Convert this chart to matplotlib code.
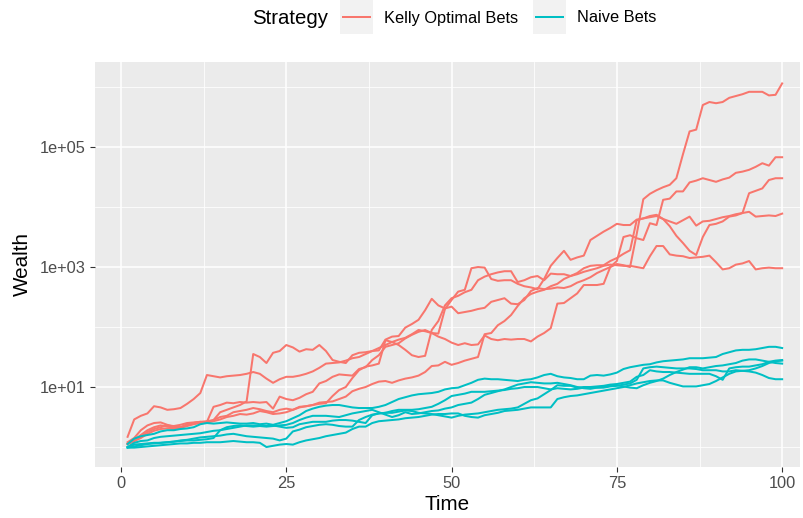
import numpy as np
import matplotlib
matplotlib.use("Agg")
import matplotlib.pyplot as plt
from matplotlib.lines import Line2D
from matplotlib.patches import Rectangle
from matplotlib.ticker import FixedLocator, NullFormatter

plt.rcParams['font.family'] = ['Liberation Sans', 'DejaVu Sans']

time = np.arange(1, 101)

# log10(wealth)
kelly_1 = [0.08, 0.15, 0.28, 0.36, 0.40, 0.41, 0.37, 0.34, 0.33, 0.38,
           0.40, 0.42, 0.43, 0.45, 0.58, 0.62, 0.66, 0.70, 0.76, 1.55,
           1.50, 1.40, 1.57, 1.60, 1.70, 1.66, 1.59, 1.63, 1.62, 1.70,
           1.60, 1.45, 1.42, 1.40, 1.53, 1.57, 1.58, 1.60, 1.61, 1.79,
           1.84, 1.85, 1.99, 2.05, 2.12, 2.28, 2.47, 2.36, 2.31, 2.34,
           2.23, 2.25, 2.27, 2.30, 2.32, 2.42, 2.45, 2.48, 2.39, 2.38,
           2.45, 2.60, 2.65, 2.63, 2.64, 2.66, 2.65, 2.68, 2.74, 2.78,
           2.83, 2.90, 2.95, 3.00, 3.05, 3.03, 3.00, 3.55, 4.13, 4.22,
           4.28, 4.33, 4.37, 4.48, 4.88, 5.26, 5.29, 5.70, 5.75, 5.73,
           5.75, 5.82, 5.85, 5.88, 5.92, 5.92, 5.92, 5.86, 5.87, 6.06]
kelly_2 = [0.05, 0.12, 0.20, 0.28, 0.33, 0.36, 0.34, 0.32, 0.33, 0.36,
           0.40, 0.41, 0.42, 0.67, 0.70, 0.74, 0.73, 0.75, 0.74, 0.75,
           0.74, 0.75, 0.64, 0.84, 0.80, 0.78, 0.82, 0.88, 0.92, 1.06,
           1.10, 1.17, 1.21, 1.20, 1.19, 1.30, 1.33, 1.45, 1.53, 1.67,
           1.70, 1.73, 1.81, 1.87, 1.92, 1.95, 1.90, 1.84, 1.80, 1.74,
           1.70, 1.73, 1.70, 1.71, 1.86, 1.80, 1.78, 1.80, 1.79, 1.80,
           1.80, 1.76, 1.84, 1.90, 1.98, 2.39, 2.40, 2.48, 2.56, 2.70,
           2.70, 2.70, 2.72, 3.00, 3.10, 3.50, 3.53, 3.48, 3.45, 3.73,
           3.70, 4.12, 4.14, 4.26, 4.26, 4.41, 4.44, 4.48, 4.45, 4.42,
           4.46, 4.49, 4.57, 4.59, 4.62, 4.67, 4.73, 4.69, 4.83, 4.83]
kelly_3 = [0.05, 0.10, 0.17, 0.25, 0.30, 0.33, 0.36, 0.35, 0.37, 0.40,
           0.41, 0.42, 0.40, 0.45, 0.50, 0.52, 0.58, 0.60, 0.62, 0.65,
           0.63, 0.60, 0.58, 0.62, 0.64, 0.62, 0.66, 0.68, 0.70, 0.72,
           0.73, 0.85, 0.95, 1.00, 1.15, 1.28, 1.34, 1.36, 1.39, 1.78,
           1.75, 1.70, 1.62, 1.53, 1.50, 1.52, 1.95, 2.10, 2.36, 2.48,
           2.52, 2.58, 2.62, 2.78, 2.84, 2.88, 2.91, 2.93, 2.93, 2.75,
           2.78, 2.83, 2.85, 2.78, 2.89, 2.88, 2.88, 2.85, 2.90, 2.98,
           3.02, 3.03, 3.03, 3.10, 3.15, 3.22, 3.28, 3.78, 3.81, 3.85,
           3.87, 3.80, 3.68, 3.52, 3.40, 3.27, 3.20, 3.50, 3.70, 3.72,
           3.76, 3.84, 3.86, 3.90, 4.23, 4.27, 4.31, 4.45, 4.48, 4.48]
kelly_4 = [0.17, 0.46, 0.52, 0.56, 0.68, 0.66, 0.62, 0.63, 0.65, 0.72,
           0.80, 0.90, 1.20, 1.18, 1.16, 1.18, 1.19, 1.20, 1.22, 1.25,
           1.22, 1.14, 1.07, 1.13, 1.17, 1.17, 1.19, 1.22, 1.26, 1.32,
           1.39, 1.40, 1.41, 1.44, 1.48, 1.50, 1.55, 1.60, 1.65, 1.70,
           1.75, 1.79, 1.82, 1.88, 1.95, 1.93, 1.90, 1.89, 2.30, 2.45,
           2.59, 2.62, 2.98, 3.00, 2.99, 2.80, 2.77, 2.78, 2.78, 2.72,
           2.68, 2.66, 2.63, 2.80, 3.02, 3.15, 3.27, 3.12, 3.16, 3.19,
           3.45, 3.52, 3.59, 3.65, 3.72, 3.70, 3.70, 3.79, 3.81, 3.83,
           3.85, 3.80, 3.76, 3.72, 3.78, 3.84, 3.69, 3.76, 3.77, 3.80,
           3.83, 3.85, 3.88, 3.90, 3.92, 3.84, 3.85, 3.86, 3.85, 3.89]
kelly_5 = [0.05, 0.10, 0.15, 0.22, 0.27, 0.30, 0.31, 0.30, 0.32, 0.35,
           0.38, 0.40, 0.41, 0.43, 0.46, 0.50, 0.52, 0.55, 0.54, 0.56,
           0.60, 0.58, 0.55, 0.56, 0.58, 0.62, 0.67, 0.68, 0.70, 0.74,
           0.75, 0.76, 0.80, 0.84, 0.93, 0.97, 1.00, 1.05, 1.09, 1.10,
           1.07, 1.11, 1.14, 1.16, 1.19, 1.25, 1.35, 1.36, 1.42, 1.37,
           1.40, 1.44, 1.47, 1.50, 1.88, 1.90, 2.03, 2.10, 2.20, 2.35,
           2.48, 2.55, 2.59, 2.62, 2.68, 2.72, 2.80, 2.85, 2.88, 2.92,
           2.95, 2.98, 3.02, 3.04, 3.03, 3.02, 3.02, 3.00, 2.98, 3.18,
           3.35, 3.35, 3.21, 3.19, 3.18, 3.15, 3.16, 3.17, 3.19, 3.08,
           2.96, 2.98, 3.04, 3.06, 3.10, 2.96, 2.98, 2.99, 2.98, 2.98]

naive_1 = [0.05, 0.14, 0.18, 0.20, 0.22, 0.26, 0.28, 0.28, 0.30, 0.31,
           0.33, 0.38, 0.40, 0.39, 0.40, 0.41, 0.40, 0.39, 0.39, 0.40,
           0.38, 0.39, 0.37, 0.40, 0.43, 0.48, 0.53, 0.60, 0.64, 0.67,
           0.69, 0.70, 0.70, 0.68, 0.66, 0.65, 0.65, 0.65, 0.67, 0.70,
           0.75, 0.80, 0.83, 0.86, 0.88, 0.89, 0.90, 0.92, 0.96, 0.98,
           0.99, 1.03, 1.07, 1.12, 1.14, 1.13, 1.13, 1.12, 1.11, 1.10,
           1.12, 1.13, 1.16, 1.20, 1.22, 1.18, 1.16, 1.15, 1.13, 1.13,
           1.19, 1.20, 1.19, 1.21, 1.24, 1.30, 1.33, 1.35, 1.37, 1.38,
           1.41, 1.43, 1.44, 1.45, 1.46, 1.48, 1.48, 1.48, 1.49, 1.50,
           1.55, 1.58, 1.61, 1.62, 1.62, 1.63, 1.65, 1.67, 1.67, 1.65]
naive_2 = [0.00, 0.07, 0.10, 0.11, 0.15, 0.17, 0.18, 0.19, 0.20, 0.21,
           0.22, 0.23, 0.25, 0.27, 0.28, 0.30, 0.32, 0.34, 0.36, 0.36,
           0.36, 0.35, 0.36, 0.34, 0.32, 0.33, 0.38, 0.40, 0.42, 0.42,
           0.42, 0.44, 0.45, 0.45, 0.44, 0.42, 0.40, 0.53, 0.56, 0.57,
           0.60, 0.62, 0.62, 0.62, 0.63, 0.65, 0.67, 0.72, 0.78, 0.85,
           0.87, 0.89, 0.92, 0.92, 0.92, 0.93, 0.94, 0.95, 0.97, 0.98,
           1.00, 1.00, 1.00, 0.98, 0.96, 0.98, 0.97, 0.96, 0.97, 0.99,
           1.00, 1.01, 1.02, 1.04, 1.05, 1.07, 1.09, 1.17, 1.20, 1.28,
           1.26, 1.25, 1.25, 1.24, 1.23, 1.22, 1.22, 1.22, 1.22, 1.18,
           1.12, 1.31, 1.33, 1.34, 1.34, 1.36, 1.38, 1.42, 1.44, 1.45]
naive_3 = [0.00, 0.04, 0.05, 0.06, 0.07, 0.07, 0.08, 0.09, 0.10, 0.11,
           0.11, 0.12, 0.13, 0.15, 0.28, 0.33, 0.35, 0.36, 0.35, 0.34,
           0.35, 0.34, 0.35, 0.36, 0.37, 0.40, 0.45, 0.49, 0.52, 0.52,
           0.52, 0.51, 0.50, 0.53, 0.56, 0.58, 0.60, 0.62, 0.58, 0.54,
           0.50, 0.53, 0.58, 0.55, 0.56, 0.58, 0.60, 0.61, 0.64, 0.66,
           0.70, 0.72, 0.74, 0.80, 0.87, 0.90, 0.93, 0.96, 1.00, 1.04,
           1.06, 1.08, 1.07, 1.06, 1.06, 1.07, 1.05, 1.03, 1.00, 0.98,
           0.97, 0.99, 1.00, 1.02, 1.03, 1.01, 0.99, 0.98, 1.03, 1.07,
           1.10, 1.14, 1.20, 1.25, 1.29, 1.33, 1.33, 1.31, 1.33, 1.35,
           1.36, 1.38, 1.40, 1.44, 1.46, 1.46, 1.44, 1.42, 1.40, 1.39]
naive_4 = [-0.01, -0.01, 0.00, 0.01, 0.02, 0.03, 0.04, 0.05, 0.06, 0.06,
           0.07, 0.07, 0.08, 0.08, 0.08, 0.09, 0.10, 0.09, 0.08, 0.08,
           0.07, 0.00, 0.02, 0.04, 0.05, 0.04, 0.08, 0.11, 0.13, 0.15,
           0.18, 0.20, 0.22, 0.24, 0.30, 0.34, 0.34, 0.40, 0.43, 0.44,
           0.45, 0.46, 0.48, 0.49, 0.50, 0.52, 0.54, 0.55, 0.55, 0.56,
           0.56, 0.52, 0.50, 0.49, 0.53, 0.55, 0.57, 0.60, 0.61, 0.62,
           0.64, 0.66, 0.66, 0.66, 0.66, 0.80, 0.83, 0.85, 0.86, 0.88,
           0.90, 0.92, 0.94, 0.96, 0.98, 1.00, 1.03, 1.06, 1.08, 1.10,
           1.11, 1.11, 1.07, 1.04, 1.01, 1.01, 1.01, 1.03, 1.05, 1.10,
           1.16, 1.22, 1.26, 1.27, 1.28, 1.31, 1.35, 1.40, 1.43, 1.44]
naive_5 = [-0.01, 0.01, 0.03, 0.05, 0.06, 0.07, 0.08, 0.09, 0.11, 0.12,
           0.14, 0.16, 0.17, 0.18, 0.19, 0.21, 0.22, 0.20, 0.18, 0.17,
           0.16, 0.15, 0.14, 0.11, 0.14, 0.26, 0.29, 0.33, 0.35, 0.37,
           0.38, 0.37, 0.35, 0.34, 0.34, 0.45, 0.50, 0.54, 0.56, 0.57,
           0.57, 0.59, 0.61, 0.60, 0.57, 0.56, 0.55, 0.53, 0.51, 0.49,
           0.52, 0.54, 0.55, 0.56, 0.58, 0.60, 0.62, 0.63, 0.64, 0.66,
           0.72, 0.78, 0.81, 0.88, 0.95, 1.03, 1.02, 1.02, 0.99, 1.00,
           1.00, 0.99, 0.99, 1.01, 1.02, 1.04, 1.06, 1.12, 1.31, 1.33,
           1.34, 1.33, 1.32, 1.31, 1.31, 1.31, 1.30, 1.28, 1.28, 1.28,
           1.26, 1.26, 1.28, 1.27, 1.26, 1.24, 1.20, 1.15, 1.13, 1.13]

kelly_runs = [kelly_1, kelly_2, kelly_3, kelly_4, kelly_5]
naive_runs = [naive_1, naive_2, naive_3, naive_4, naive_5]

strategies = ["Kelly Optimal Bets", "Naive Bets"]
colors = ["#F8766D", "#00BFC4"]
y_major = [1e1, 1e3, 1e5]
y_major_labels = ["1e+01", "1e+03", "1e+05"]
y_minor = [1e0, 1e2, 1e4, 1e6]
x_major = [0, 25, 50, 75, 100]
x_minor = [12.5, 37.5, 62.5, 87.5]

W, H = 804, 518
fig = plt.figure(figsize=(W / 100, H / 100), dpi=100)
fig.patch.set_facecolor("white")
ax = fig.add_axes([95 / W, 1 - 467 / H, (800 - 95) / W, (467 - 62) / H])
ax.set_facecolor("#EBEBEB")

for run in kelly_runs:
    ax.plot(time, 10 ** np.array(run), color=colors[0], lw=1.45, solid_joinstyle="round")
for run in naive_runs:
    ax.plot(time, 10 ** np.array(run), color=colors[1], lw=1.45, solid_joinstyle="round")

ax.set_yscale("log")
ax.set_xlim(-3.93, 102.7)
ax.set_ylim(10 ** -0.333, 10 ** 6.417)

ax.xaxis.set_major_locator(FixedLocator(x_major))
ax.xaxis.set_minor_locator(FixedLocator(x_minor))
ax.yaxis.set_major_locator(FixedLocator(y_major))
ax.yaxis.set_minor_locator(FixedLocator(y_minor))
ax.set_yticklabels(y_major_labels)
ax.xaxis.set_minor_formatter(NullFormatter())
ax.yaxis.set_minor_formatter(NullFormatter())
ax.set_xticklabels([str(v) for v in x_major])

ax.grid(which="major", color="white", lw=1.1)
ax.grid(which="minor", color="white", lw=0.55)
ax.set_axisbelow(True)
for s in ax.spines.values():
    s.set_visible(False)
ax.tick_params(which="major", length=3.6, width=0.8, color="#333333",
               labelcolor="#4D4D4D", labelsize=11.8, pad=3)
ax.tick_params(which="minor", length=0)

ax.set_xlabel("Time", fontsize=14.9, color="black", labelpad=3)
ax.set_ylabel("Wealth", fontsize=14.9, color="black", labelpad=6)

# legend on top
fig.text(252 / W, 1 - 18 / H, "Strategy", fontsize=14.7, va="center", ha="left")
keys = [(340, 384), (533, 577)]
for (kx, lx), lab, col in zip(keys, strategies, colors):
    fig.add_artist(Rectangle((kx / W, 1 - 34 / H), 33 / W, 34 / H,
                             transform=fig.transFigure, facecolor="#F2F2F2",
                             edgecolor="none"))
    fig.add_artist(Line2D([(kx + 3) / W, (kx + 30) / W], [1 - 17 / H, 1 - 17 / H],
                          transform=fig.transFigure, color=col, lw=1.45))
    fig.text(lx / W, 1 - 18 / H, lab, fontsize=11.8, va="center", ha="left")

fig.savefig("out.png", dpi=100, facecolor="white")
